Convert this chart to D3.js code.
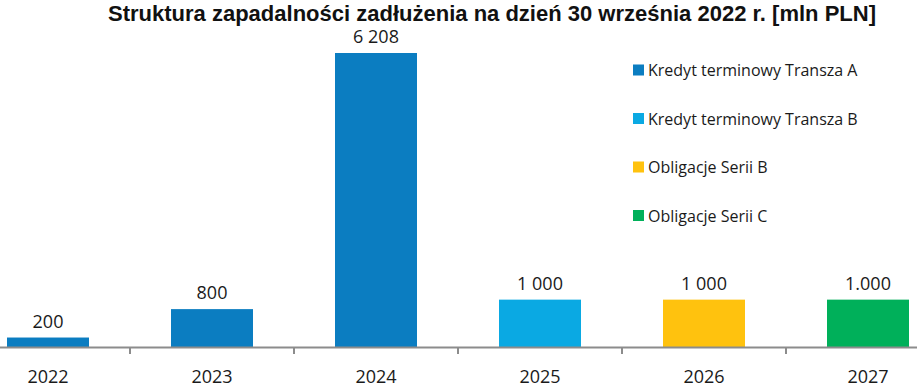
<!DOCTYPE html>
<html>
<head>
<meta charset="utf-8">
<script src="https://cdn.jsdelivr.net/npm/d3@7"></script>
<style>
  body { margin: 0; background: #fff; }
  svg { display: block; }
</style>
</head>
<body>
<div id="chart"></div>
<script>
// data
var years = ["2022", "2023", "2024", "2025", "2026", "2027"];
var values = [200, 800, 6208, 1000, 1000, 1000];
var valueLabels = ["200", "800", "6 208", "1 000", "1 000", "1.000"];
var barSeries = [0, 0, 0, 1, 2, 3];
var seriesNames = ["Kredyt terminowy Transza A", "Kredyt terminowy Transza B",
                   "Obligacje Serii B", "Obligacje Serii C"];
var seriesColors = ["#0b7dc1", "#0aa9e3", "#ffc20e", "#00b05a"];

var width = 917, height = 387;
var baseY = 347;

var svg = d3.select("#chart").append("svg")
  .attr("width", width)
  .attr("height", height);

// title
svg.append("text")
  .attr("x", 108)
  .attr("y", 21)
  .attr("textLength", 768)
  .attr("lengthAdjust", "spacingAndGlyphs")
  .style("font-family", "'Liberation Sans', Arial, sans-serif")
  .style("font-weight", "bold")
  .style("font-size", "22px")
  .style("fill", "#111")
  .text("Struktura zapadalności zadłużenia na dzień 30 września 2022 r. [mln PLN]");

// scales (plot is cut off on both sides, like the source)
var x = d3.scaleBand()
  .domain(years)
  .range([-34, 950])
  .paddingInner(0.5)
  .paddingOuter(0.25);

var y = d3.scaleLinear()
  .domain([0, 6208])
  .range([baseY, 53]);

// bars
svg.selectAll("rect.bar")
  .data(years)
  .enter().append("rect")
  .attr("class", "bar")
  .attr("x", function(d) { return x(d); })
  .attr("width", x.bandwidth())
  .attr("y", function(d, i) { return y(values[i]); })
  .attr("height", function(d, i) { return baseY - y(values[i]); })
  .style("fill", function(d, i) { return seriesColors[barSeries[i]]; });

// value labels
svg.selectAll("text.val")
  .data(years)
  .enter().append("text")
  .attr("class", "val")
  .attr("x", function(d) { return x(d) + x.bandwidth() / 2; })
  .attr("y", function(d, i) { return y(values[i]) - 10; })
  .attr("text-anchor", "middle")
  .style("font-family", "'Open Sans', sans-serif")
  .style("font-size", "18px")
  .style("fill", "#1a1a1a")
  .text(function(d, i) { return valueLabels[i]; });

// x axis line + ticks between categories
svg.append("line")
  .attr("x1", 0).attr("x2", width)
  .attr("y1", baseY + 0.5).attr("y2", baseY + 0.5)
  .style("stroke", "#8c8c8c")
  .style("stroke-width", 2);

svg.selectAll("line.tick")
  .data(years.slice(1))
  .enter().append("line")
  .attr("class", "tick")
  .attr("x1", function(d) { return x(d) - x.step() * 0.25; })
  .attr("x2", function(d) { return x(d) - x.step() * 0.25; })
  .attr("y1", baseY)
  .attr("y2", baseY + 7)
  .style("stroke", "#8c8c8c")
  .style("stroke-width", 2);

svg.selectAll("text.year")
  .data(years)
  .enter().append("text")
  .attr("class", "year")
  .attr("x", function(d) { return x(d) + x.bandwidth() / 2; })
  .attr("y", 383)
  .attr("text-anchor", "middle")
  .style("font-family", "'Open Sans', sans-serif")
  .style("font-size", "18px")
  .style("fill", "#1a1a1a")
  .text(function(d) { return d; });

// legend
var leg = svg.selectAll("g.leg")
  .data(seriesNames)
  .enter().append("g")
  .attr("class", "leg")
  .attr("transform", function(d, i) { return "translate(633," + (70 + i * 48.5) + ")"; });

leg.append("rect")
  .attr("x", 0).attr("y", -5.5)
  .attr("width", 11).attr("height", 11)
  .style("fill", function(d, i) { return seriesColors[i]; });

leg.append("text")
  .attr("x", 15)
  .attr("y", 6)
  .style("font-family", "'Open Sans', sans-serif")
  .style("font-size", "16px")
  .style("fill", "#1a1a1a")
  .text(function(d) { return d; });
</script>
</body>
</html>
